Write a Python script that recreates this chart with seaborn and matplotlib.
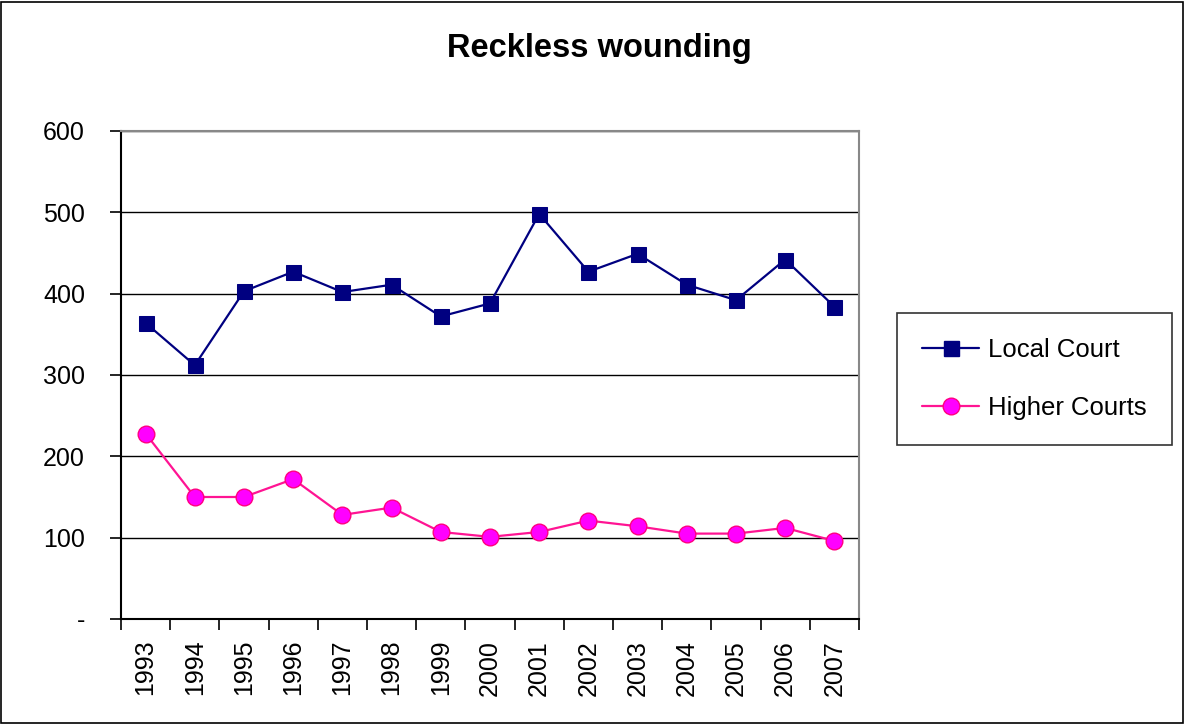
import matplotlib
matplotlib.use("Agg")
import matplotlib.pyplot as plt
import seaborn as sns
import pandas as pd
from matplotlib.patches import Rectangle
from matplotlib.ticker import FixedLocator

years = ["1993", "1994", "1995", "1996", "1997", "1998", "1999", "2000",
         "2001", "2002", "2003", "2004", "2005", "2006", "2007"]
local_court = [364, 312, 403, 427, 402, 411, 372, 388, 498, 427, 449, 411, 392, 442, 384]
higher_courts = [228, 150, 150, 172, 128, 137, 107, 101, 107, 121, 114, 105, 105, 112, 96]
series_names = ["Local Court", "Higher Courts"]
y_ticks = [0, 100, 200, 300, 400, 500, 600]
y_tick_labels = ["-", "100", "200", "300", "400", "500", "600"]
title = "Reckless wounding"

df = pd.DataFrame({
    "year": years * 2,
    "value": local_court + higher_courts,
    "series": [series_names[0]] * len(years) + [series_names[1]] * len(years),
})

sns.set_theme(style="white")
plt.rcParams["font.family"] = ["Liberation Sans", "DejaVu Sans"]
plt.rcParams["text.color"] = "#000000"
plt.rcParams["xtick.color"] = "#000000"
plt.rcParams["ytick.color"] = "#000000"
plt.rcParams["axes.labelcolor"] = "#000000"

fig = plt.figure(figsize=(11.86, 7.24), dpi=100)
ax = fig.add_axes([121 / 1186, 1 - 619 / 724, 738 / 1186, 488 / 724])

palette = {series_names[0]: "#000080", series_names[1]: "#FF1493"}
markers = {series_names[0]: "s", series_names[1]: "o"}
sns.lineplot(data=df, x="year", y="value", hue="series", style="series",
             palette=palette, markers=markers, dashes=False, sort=False,
             linewidth=1.6, markersize=11, ax=ax, legend=False)

for line in ax.get_lines():
    if line.get_marker() == "o":
        line.set_markerfacecolor("#FF00FF")
        line.set_markeredgecolor("#FF0080")
        line.set_markeredgewidth(1.0)
        line.set_markersize(12)
    elif line.get_marker() == "s":
        line.set_markerfacecolor("#000080")
        line.set_markeredgecolor("#000080")
        line.set_markersize(10.8)

n = len(years)
ax.set_xlim(-0.5, n - 0.5)
ax.set_ylim(0, 600)

ax.set_yticks(y_ticks)
ax.set_yticklabels(y_tick_labels, fontsize=18)
ax.yaxis.grid(True, color="#000000", linewidth=1.0)
ax.set_axisbelow(True)

ax.set_xticks(range(n))
ax.set_xticklabels(years, rotation=90, fontsize=18)
ax.xaxis.set_minor_locator(FixedLocator([i - 0.5 for i in range(n + 1)]))
ax.tick_params(axis="x", which="major", length=0, pad=15)
ax.tick_params(axis="x", which="minor", length=8, width=1.2, color="#000000", direction="out", bottom=True)
ax.tick_params(axis="y", which="major", length=8, width=1.2, color="#000000", direction="out", left=True, pad=18)

ax.set_xlabel("")
ax.set_ylabel("")

for side in ["left", "bottom"]:
    ax.spines[side].set_color("#000000")
    ax.spines[side].set_linewidth(1.5)
for side in ["top", "right"]:
    ax.spines[side].set_color("#888888")
    ax.spines[side].set_linewidth(1.5)

fig.text(599 / 1186, 1 - 49 / 724, title, ha="center", va="center",
         fontsize=23.5, fontweight="bold", color="#000000")

handles = [
    plt.Line2D([], [], color="#000080", marker="s", markersize=10.8, linewidth=1.6,
               markerfacecolor="#000080", markeredgecolor="#000080"),
    plt.Line2D([], [], color="#FF1493", marker="o", markersize=12, linewidth=1.6,
               markerfacecolor="#FF00FF", markeredgecolor="#FF0080"),
]
leg = fig.legend(handles, series_names, loc="center",
                 bbox_to_anchor=(1034.5 / 1186, 1 - 379 / 724),
                 fontsize=18.5, frameon=True, fancybox=False, handlelength=2.2,
                 labelspacing=1.3, borderpad=1.0, handletextpad=0.35,
                 borderaxespad=0)
leg.get_frame().set_edgecolor("#000000")
leg.get_frame().set_linewidth(1.2)
leg._legend_box.align = "left"

fig.patches.append(Rectangle((1 / 1186, 1 / 724), 1182 / 1186, 721 / 724,
                             transform=fig.transFigure, fill=False,
                             edgecolor="#000000", linewidth=1.2))

fig.savefig("out.png", dpi=100)
